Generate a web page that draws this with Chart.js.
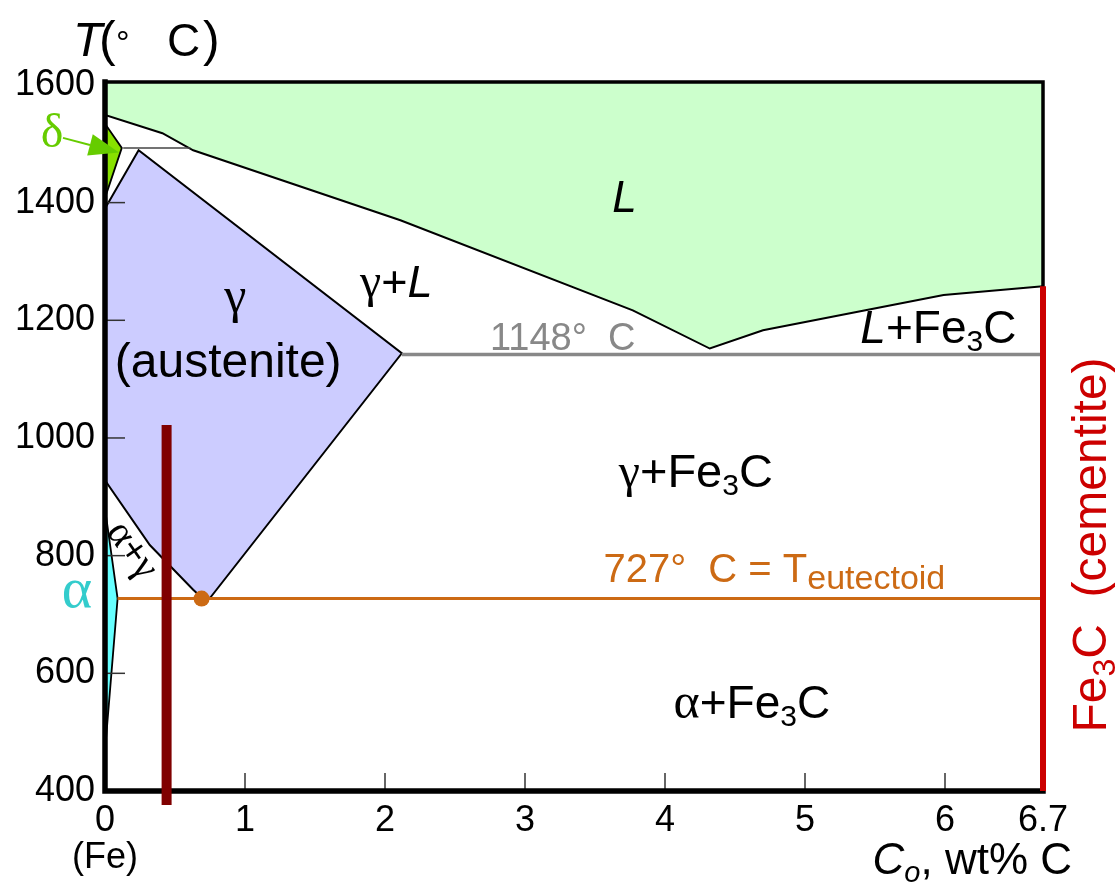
<!DOCTYPE html>
<html>
<head>
<meta charset="utf-8">
<script src="https://cdn.jsdelivr.net/npm/chart.js@4.4.1/dist/chart.umd.min.js"></script>
<style>
html,body{margin:0;padding:0;background:#fff;}
#wrap{width:1115px;height:894px;position:relative;}
</style>
</head>
<body>
<div id="wrap"><canvas id="c" width="1115" height="894"></canvas></div>
<script>
// ---------------- data ----------------
const xTicks = [0, 1, 2, 3, 4, 5, 6, 6.7];
const xTickLabels = ['0', '1', '2', '3', '4', '5', '6', '6.7'];
const yTicks = [400, 600, 800, 1000, 1200, 1400, 1600];
const yTickLabels = ['400', '600', '800', '1000', '1200', '1400', '1600'];

const liquidusX = [0, 0.41, 0.63, 2.11, 3.77, 4.32, 4.70, 5.99, 6.7];
const liquidusT = [1549, 1518, 1489, 1370, 1217, 1152, 1183, 1243, 1258];

const austeniteX = [0, 0.24, 2.12, 0.75, 0.68, 0.63, 0.32, 0, 0];
const austeniteT = [1390, 1489, 1144, 728, 731, 742, 818, 928, 1390];

const deltaX = [0, 0.12, 0, 0];
const deltaT = [1534, 1493, 1408, 1534];

const ferriteX = [0, 0.09, 0, 0];
const ferriteT = [880, 727, 468, 880];

const peritecticX = [0.13, 0.61];
const peritecticT = [1493, 1493];

const eutecticX = [2.12, 6.7];
const eutecticT = [1142, 1142];

const eutectoidX = [0.09, 6.7];
const eutectoidT = [727, 727];

const eutectoidPointX = [0.69];
const eutectoidPointT = [727];

const cementiteX = [6.7, 6.7];
const cementiteT = [400, 1258];

const alloyX = [0.44, 0.44];
const alloyT = [376, 1022];

// ---------------- helpers ----------------
const pts = (xs, ts) => xs.map((x, i) => ({x: x, y: ts[i]}));
const SANS = '"Liberation Sans", Arial, sans-serif';
const SERIF = '"Liberation Serif", "Times New Roman", serif';
const ORANGE = '#cc6a14';

function ds(label, data, o) {
  return Object.assign({
    label: label, data: data, type: 'line', pointRadius: 0, pointHoverRadius: 0,
    tension: 0, borderWidth: 2, borderColor: '#000', fill: false, borderJoinStyle: 'miter'
  }, o);
}

function rich(ctx, segs, x, y, align, color) {
  let total = 0;
  segs.forEach(s => { ctx.font = s.f; s.w = ctx.measureText(s.t).width; total += s.w; });
  let cx = align === 'center' ? x - total / 2 : (align === 'right' ? x - total : x);
  ctx.textAlign = 'left';
  ctx.textBaseline = 'alphabetic';
  segs.forEach(s => {
    ctx.font = s.f;
    ctx.fillStyle = s.c || color || '#000';
    ctx.fillText(s.t, cx, y + (s.dy || 0));
    cx += s.w;
  });
}
const f = (size, style, fam) => (style ? style + ' ' : '') + size + 'px ' + (fam || SANS);

// ---------------- plugins ----------------
const framePlugin = {
  id: 'frame',
  afterDatasetDraw(chart, args) {
    const d = chart.data.datasets[args.index];
    if (d.label !== 'eutectoid point') return;
    const ctx = chart.ctx, a = chart.chartArea;
    const xs = chart.scales.x, ys = chart.scales.y;
    ctx.save();
    ctx.strokeStyle = '#333';
    ctx.lineWidth = 1.5;
    yTicks.forEach(v => {
      if (v === 400 || v === 1600) return;
      const py = ys.getPixelForValue(v);
      ctx.beginPath(); ctx.moveTo(a.left, py); ctx.lineTo(a.left + 20, py); ctx.stroke();
    });
    xTicks.forEach(v => {
      if (v === 0 || v === 6.7) return;
      const px = xs.getPixelForValue(v);
      ctx.beginPath(); ctx.moveTo(px, a.bottom); ctx.lineTo(px, a.bottom - 18); ctx.stroke();
    });
    ctx.strokeStyle = '#000';
    ctx.lineCap = 'square';
    ctx.lineWidth = 3.5;
    ctx.beginPath(); ctx.moveTo(a.left, a.top); ctx.lineTo(a.right, a.top); ctx.lineTo(a.right, a.bottom); ctx.stroke();
    ctx.lineWidth = 5.5;
    ctx.beginPath(); ctx.moveTo(a.left, a.top); ctx.lineTo(a.left, a.bottom); ctx.lineTo(a.right, a.bottom); ctx.stroke();
    ctx.restore();
  }
};

const textPlugin = {
  id: 'texts',
  afterDraw(chart) {
    const ctx = chart.ctx;
    const X = v => chart.scales.x.getPixelForValue(v);
    const Y = v => chart.scales.y.getPixelForValue(v);
    ctx.save();

    // title T(°  C)
    rich(ctx, [{t: 'T', f: f(48, 'italic')}], 73, 56, 'left');
    rich(ctx, [{t: '(', f: f(50)}], 99, 56, 'left');
    rich(ctx, [{t: '°', f: f(34)}], 116, 54, 'left');
    rich(ctx, [{t: 'C', f: f(46)}], 167, 56, 'left');
    rich(ctx, [{t: ')', f: f(50)}], 203, 56, 'left');

    // L
    rich(ctx, [{t: 'L', f: f(44, 'italic')}], X(3.71), Y(1384), 'center');
    // gamma + L
    rich(ctx, [
      {t: 'γ', f: f(48, '', SERIF)}, {t: '+', f: f(45)}, {t: 'L', f: f(45, 'italic')}
    ], X(2.08), Y(1240), 'center');
    // gamma (austenite)
    rich(ctx, [{t: 'γ', f: f(50, '', SERIF)}], X(0.93), Y(1214), 'center');
    rich(ctx, [{t: '(austenite)', f: f(48)}], X(0.88), Y(1104), 'center');
    // 1148 C
    rich(ctx, [{t: '1148°  C', f: f(38)}], X(2.75), Y(1149), 'left', '#888');
    // L + Fe3C
    rich(ctx, [
      {t: 'L', f: f(46, 'italic')}, {t: '+Fe', f: f(46)}, {t: '3', f: f(30), dy: 8}, {t: 'C', f: f(46)}
    ], X(6.51), Y(1161), 'right');
    // gamma + Fe3C
    rich(ctx, [
      {t: 'γ', f: f(48, '', SERIF)}, {t: '+Fe', f: f(47)}, {t: '3', f: f(30), dy: 8}, {t: 'C', f: f(47)}
    ], X(4.22), Y(917), 'center');
    // 727
    rich(ctx, [
      {t: '727°  C = T', f: f(40)}, {t: 'eutectoid', f: f(34), dy: 7}
    ], X(3.56), Y(755), 'left', ORANGE);
    // alpha + Fe3C
    rich(ctx, [
      {t: 'α', f: f(50, '', SERIF)}, {t: '+Fe', f: f(46)}, {t: '3', f: f(30), dy: 8}, {t: 'C', f: f(46)}
    ], X(4.62), Y(524), 'center');
    // alpha label
    rich(ctx, [{t: 'α', f: f(58, '', SERIF)}], 77, Y(713), 'center', '#33cccc');
    // delta label + arrow
    rich(ctx, [{t: 'δ', f: f(48, '', SERIF)}], 52, Y(1494), 'center', '#66cc00');
    {
      const x0 = X(-0.30), y0 = Y(1510), x1 = X(0.10), y1 = Y(1485);
      const ang = Math.atan2(y1 - y0, x1 - x0);
      const hl = 30, hw = 11;
      const bx = x1 - hl * Math.cos(ang), by = y1 - hl * Math.sin(ang);
      ctx.strokeStyle = '#66cc00'; ctx.fillStyle = '#66cc00'; ctx.lineWidth = 2;
      ctx.beginPath(); ctx.moveTo(x0, y0); ctx.lineTo(bx, by); ctx.stroke();
      ctx.beginPath();
      ctx.moveTo(x1, y1);
      ctx.lineTo(bx + hw * Math.sin(ang), by - hw * Math.cos(ang));
      ctx.lineTo(bx - hw * Math.sin(ang), by + hw * Math.cos(ang));
      ctx.closePath(); ctx.fill();
    }
    // alpha + gamma rotated
    ctx.save();
    ctx.translate(X(0.20), Y(810));
    ctx.rotate(55 * Math.PI / 180);
    rich(ctx, [
      {t: 'α', f: f(40, '', SERIF)}, {t: '+', f: f(38)}, {t: 'γ', f: f(40, '', SERIF)}
    ], 0, 12, 'center');
    ctx.restore();
    // Fe3C (cementite)
    ctx.save();
    ctx.translate(1106, 545);
    ctx.rotate(-Math.PI / 2);
    rich(ctx, [
      {t: 'Fe', f: f(48)}, {t: '3', f: f(32), dy: 9}, {t: 'C  (cementite)', f: f(48)}
    ], 0, 0, 'center', '#cc0000');
    ctx.restore();
    // (Fe)
    rich(ctx, [{t: '(Fe)', f: f(36)}], X(0), 868, 'center');
    // Co, wt% C
    rich(ctx, [
      {t: 'C', f: f(44, 'italic')}, {t: 'o', f: f(29, 'italic'), dy: 8}, {t: ', wt% C', f: f(44)}
    ], 1072, 874, 'right');

    ctx.restore();
  }
};

// ---------------- chart ----------------
const tickFont = {family: SANS, size: 36};
new Chart(document.getElementById('c'), {
  type: 'line',
  data: {
    datasets: [
      ds('alloy', pts(alloyX, alloyT), {borderColor: '#800000', borderWidth: 10, order: 0, clip: false, borderCapStyle: 'butt'}),
      ds('Fe3C', pts(cementiteX, cementiteT), {borderColor: '#cc0000', borderWidth: 6, order: 1, clip: false}),
      ds('eutectoid point', pts(eutectoidPointX, eutectoidPointT), {showLine: false, pointRadius: 8, pointBackgroundColor: ORANGE, pointBorderWidth: 0, pointBorderColor: ORANGE, order: 2}),
      ds('eutectoid', pts(eutectoidX, eutectoidT), {borderColor: ORANGE, borderWidth: 3, order: 3}),
      ds('eutectic', pts(eutecticX, eutecticT), {borderColor: '#888', borderWidth: 3.5, order: 4}),
      ds('peritectic', pts(peritecticX, peritecticT), {borderColor: '#444', borderWidth: 1.5, order: 5}),
      ds('alpha', pts(ferriteX, ferriteT), {fill: 'shape', backgroundColor: '#66ffff', borderWidth: 1.8, order: 6}),
      ds('delta', pts(deltaX, deltaT), {fill: 'shape', backgroundColor: '#88e000', borderWidth: 1.8, order: 7}),
      ds('gamma', pts(austeniteX, austeniteT), {fill: 'shape', backgroundColor: '#ccccff', borderWidth: 2, order: 8}),
      ds('liquid', pts(liquidusX, liquidusT), {fill: 'end', backgroundColor: '#ccffcc', borderWidth: 2, order: 9})
    ]
  },
  options: {
    responsive: false,
    animation: false,
    devicePixelRatio: 1,
    layout: {padding: {left: 0, right: 72, top: 82, bottom: 0}},
    plugins: {legend: {display: false}, tooltip: {enabled: false}},
    events: [],
    scales: {
      x: {
        type: 'linear', min: 0, max: 6.7,
        grid: {display: false}, border: {display: false},
        afterBuildTicks: s => { s.ticks = xTicks.map(v => ({value: v})); },
        afterFit: s => { s.height = 103; },
        ticks: {font: tickFont, color: '#000', padding: 0, autoSkip: false, maxRotation: 0,
          callback: (v, i) => xTickLabels[i]}
      },
      y: {
        type: 'linear', min: 400, max: 1605,
        grid: {display: false}, border: {display: false},
        afterBuildTicks: s => { s.ticks = yTicks.map(v => ({value: v})); },
        afterFit: s => { s.width = 105; },
        ticks: {font: tickFont, color: '#000', padding: 2,
          callback: (v, i) => yTickLabels[i]}
      }
    }
  },
  plugins: [framePlugin, textPlugin]
});
</script>
</body>
</html>
